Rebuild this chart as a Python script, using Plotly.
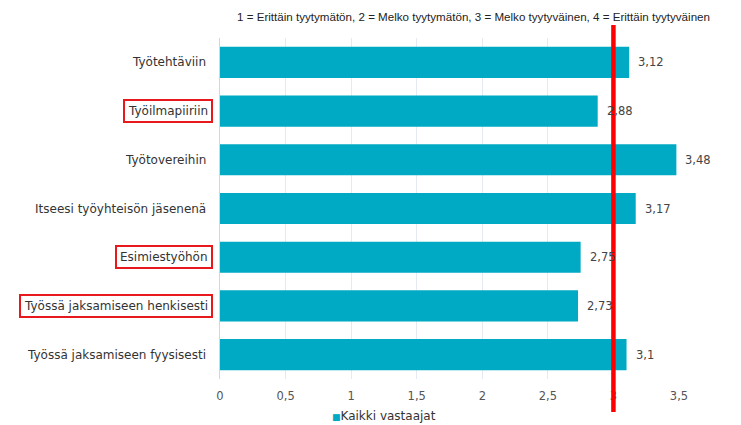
import plotly.graph_objects as go

# Survey results: mean satisfaction on a 1-4 scale
categories = [
    "Työtehtäviin",
    "Työilmapiiriin",
    "Työtovereihin",
    "Itseesi työyhteisön jäsenenä",
    "Esimiestyöhön",
    "Työssä jaksamiseen henkisesti",
    "Työssä jaksamiseen fyysisesti",
]
values = [3.12, 2.88, 3.48, 3.17, 2.75, 2.73, 3.1]
highlighted = ["Työilmapiiriin", "Esimiestyöhön", "Työssä jaksamiseen henkisesti"]
series_name = "Kaikki vastaajat"
reference_value = 3
scale_note = ("1 = Erittäin tyytymätön, 2 = Melko tyytymätön, "
              "3 = Melko tyytyväinen, 4 = Erittäin tyytyväinen")

BAR_COLOR = "#00AAC4"
LABEL_FONT = "DejaVu Sans"

W, H = 741, 425
ML, MR, MT, MB = 220, 62, 38, 46
PW, PH = W - ML - MR, H - MT - MB


def fmt(v):
    return f"{v:g}".replace(".", ",")


fig = go.Figure()
fig.add_trace(go.Bar(
    x=values,
    y=categories,
    orientation="h",
    name=series_name,
    marker=dict(color=BAR_COLOR, line=dict(width=0)),
    width=0.64,
    showlegend=False,
))

annotations = []

# Category labels drawn as annotations so selected ones can carry a frame
for cat in categories:
    boxed = cat in highlighted
    annotations.append(dict(
        x=0, xref="paper", y=cat, yref="y",
        text=cat, showarrow=False,
        xanchor="right", yanchor="middle",
        xshift=-7 if boxed else -11,
        font=dict(family=LABEL_FONT, size=12, color="#333333"),
        bordercolor="#E8191C" if boxed else "rgba(0,0,0,0)",
        borderwidth=2 if boxed else 0,
        borderpad=3,
    ))

# Value labels just past the end of each bar
for cat, v in zip(categories, values):
    annotations.append(dict(
        x=v, xref="x", y=cat, yref="y", text=fmt(v), showarrow=False,
        xanchor="left", yanchor="middle", xshift=7,
        font=dict(family=LABEL_FONT, size=11.5, color="#444444"),
    ))

# Scale explanation above the plot
annotations.append(dict(
    x=(473 - ML) / PW, xref="paper", y=1 + (MT - 16) / PH, yref="paper",
    text=scale_note, showarrow=False, xanchor="center", yanchor="middle",
    font=dict(family="Liberation Sans", size=11.6, color="#222222"),
))

# Series key below the axis
annotations.append(dict(
    x=(330 - ML) / PW, xref="paper", y=-(416 - (H - MB)) / PH, yref="paper",
    text=(f"<span style='color:{BAR_COLOR};font-size:9px'>■</span>"
          f"{series_name}"),
    showarrow=False, xanchor="left", yanchor="middle",
    font=dict(family=LABEL_FONT, size=12, color="#333333"),
))

fig.update_layout(
    width=W, height=H,
    margin=dict(l=ML, r=MR, t=MT, b=MB, autoexpand=False),
    paper_bgcolor="white", plot_bgcolor="white",
    separators=", ",
    showlegend=False,
    xaxis=dict(
        range=[0, 3.5], dtick=0.5, tick0=0,
        showgrid=True, gridcolor="#E3EAF1", gridwidth=1,
        zeroline=False, showline=False, ticks="",
        ticklabelstandoff=8,
        tickfont=dict(family=LABEL_FONT, size=11.5, color="#555555"),
    ),
    yaxis=dict(
        autorange="reversed", showticklabels=False, ticks="",
        showgrid=False, zeroline=False,
        showline=True, linecolor="#D0D6DC", linewidth=1,
    ),
    annotations=annotations,
    shapes=[dict(
        type="line", xref="x", yref="paper",
        x0=reference_value, x1=reference_value,
        y0=-(412 - (H - MB)) / PH, y1=1 + (MT - 25) / PH,
        line=dict(color="#FF0000", width=4.5), layer="above",
    )],
)

fig.write_html("out.html")
